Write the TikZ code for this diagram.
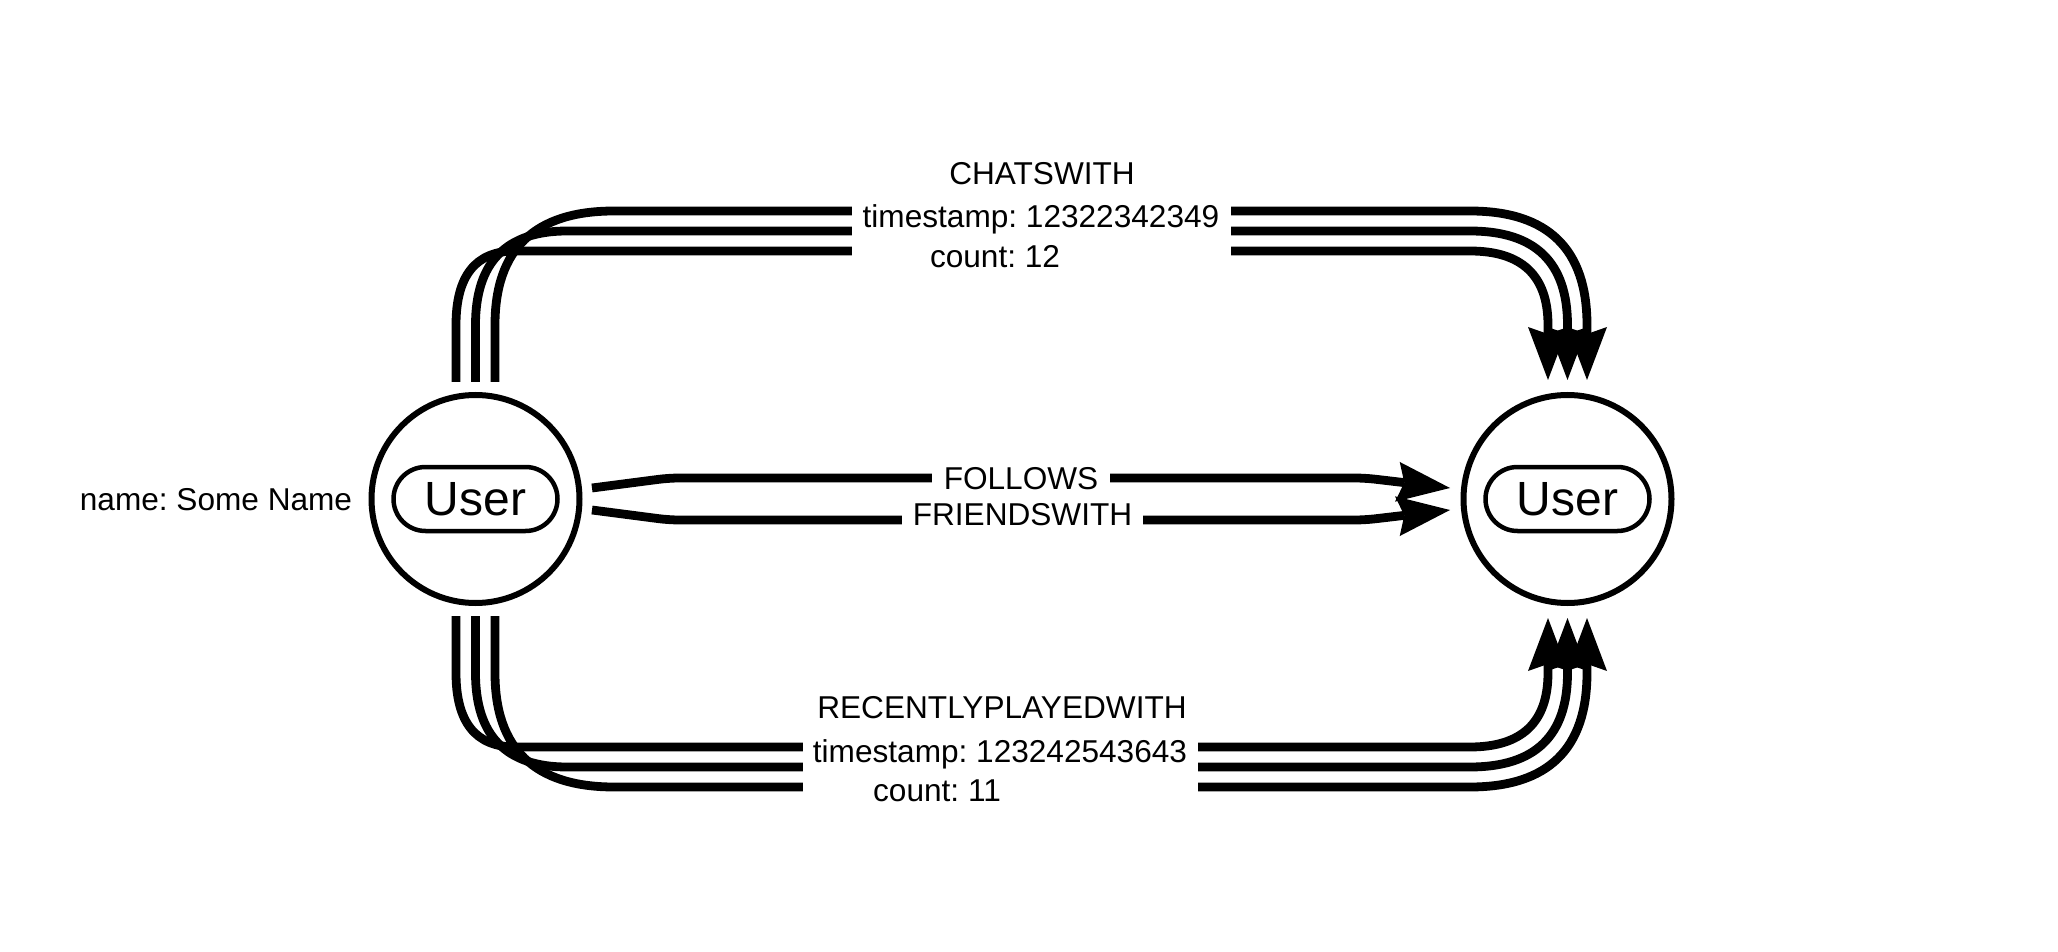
\documentclass[tikz,border=0pt]{standalone}
\usepackage{fontspec}
\setmainfont{Liberation Sans}
\usetikzlibrary{arrows.meta}
\frenchspacing
\tikzset{
  usercircle/.style={circle, draw=black, line width=3pt, minimum size=104pt, inner sep=0pt},
  userbox/.style={rectangle, draw=black, line width=2.25pt, rounded corners=16pt,
    minimum width=82pt, minimum height=32pt, inner sep=0pt,
    font=\fontsize{24pt}{28pt}\selectfont},
  edge/.style={draw=black, line width=4.4pt,
    -{Stealth[length=26.5pt, width=20pt, inset=3.5pt, line width=0pt]}},
  lbl/.style={anchor=base, inner sep=0pt, font=\fontsize{15.8pt}{19pt}\selectfont},
  gapbox/.style={fill=white, draw=none, inner sep=0pt, minimum height=28pt}
}
\begin{document}
\begin{tikzpicture}[x=0.5pt, y=-0.5pt]
\useasboundingbox (0,0) rectangle (2058,952);

% nodes
\node[usercircle] (L) at (475.5,499) {};
\node[userbox] (Lbox) at (475.5,499) {User};
\node[usercircle] (R) at (1567.5,499) {};
\node[userbox] (Rbox) at (1567.5,499) {User};
\node[lbl] (nm) at (216,510) {name: Some Name};

% CHATSWITH edges (top)
\draw[edge] ([xshift=9.75pt,yshift=5pt]L.north) -- (495,325)
  .. controls (495,249) and (534.7,211) .. (614,211) -- (1470,211)
  .. controls (1548,211) and (1587,249) .. (1587,325)
  -- ([xshift=9.75pt,yshift=6pt]R.north);
\draw[edge] ([yshift=5pt]L.north) -- (475.5,325)
  .. controls (475.5,262.3) and (506,231) .. (567,231) -- (1470,231)
  .. controls (1535.3,231) and (1567.5,262.3) .. (1567.5,325)
  -- ([yshift=6pt]R.north);
\draw[edge] ([xshift=-9.75pt,yshift=5pt]L.north) -- (456,325)
  .. controls (456,275.7) and (475.7,251) .. (515,251) -- (1470,251)
  .. controls (1522,251) and (1548,275.7) .. (1548,325)
  -- ([xshift=-9.75pt,yshift=6pt]R.north);

% RECENTLYPLAYEDWITH edges (bottom)
\draw[edge] ([xshift=-9.75pt,yshift=-5pt]L.south) -- (456,673)
  .. controls (456,722.3) and (475.7,747) .. (515,747) -- (1470,747)
  .. controls (1522,747) and (1548,722.3) .. (1548,673)
  -- ([xshift=-9.75pt,yshift=-6pt]R.south);
\draw[edge] ([yshift=-5pt]L.south) -- (475.5,673)
  .. controls (475.5,735.7) and (506,767) .. (567,767) -- (1470,767)
  .. controls (1535.3,767) and (1567.5,735.7) .. (1567.5,673)
  -- ([yshift=-6pt]R.south);
\draw[edge] ([xshift=9.75pt,yshift=-5pt]L.south) -- (495,673)
  .. controls (495,749) and (534.7,787) .. (614,787) -- (1470,787)
  .. controls (1548,787) and (1587,749) .. (1587,673)
  -- ([xshift=9.75pt,yshift=-6pt]R.south);

% FOLLOWS / FRIENDSWITH edges (middle)
\draw[edge, rounded corners=5pt] ([xshift=4.75pt,yshift=5.5pt]L.east) -- (669,478)
  -- (1365,478) -- ([xshift=-5.25pt,yshift=5.5pt]R.west);
\draw[edge, rounded corners=5pt] ([xshift=4.75pt,yshift=-5.5pt]L.east) -- (669,520)
  -- (1365,520) -- ([xshift=-5.25pt,yshift=-5.5pt]R.west);

% label gaps
\node[gapbox, minimum width=189.5pt] (cgap) at (1041.5,231) {};
\node[gapbox, minimum width=197.5pt] (rgap) at (1000.5,767) {};

% labels
\node[lbl] (chat) at (1042,185) {CHATSWITH};
\node[lbl] (chatts) at (1041,228) {timestamp: 12322342349};
\node[lbl] (chatcnt) at (995,268) {count: 12};
\node[lbl] (rec) at (1002,718) {RECENTLYPLAYEDWITH};
\node[lbl] (rects) at (1000,762) {timestamp: 123242543643};
\node[lbl] (reccnt) at (937,801) {count: 11};
\node[lbl, fill=white, inner ysep=3pt, minimum width=89pt] (fol) at (1021,489) {FOLLOWS};
\node[lbl, fill=white, inner ysep=3pt, minimum width=120.5pt] (fri) at (1022.5,525) {FRIENDSWITH};
\end{tikzpicture}
\end{document}
